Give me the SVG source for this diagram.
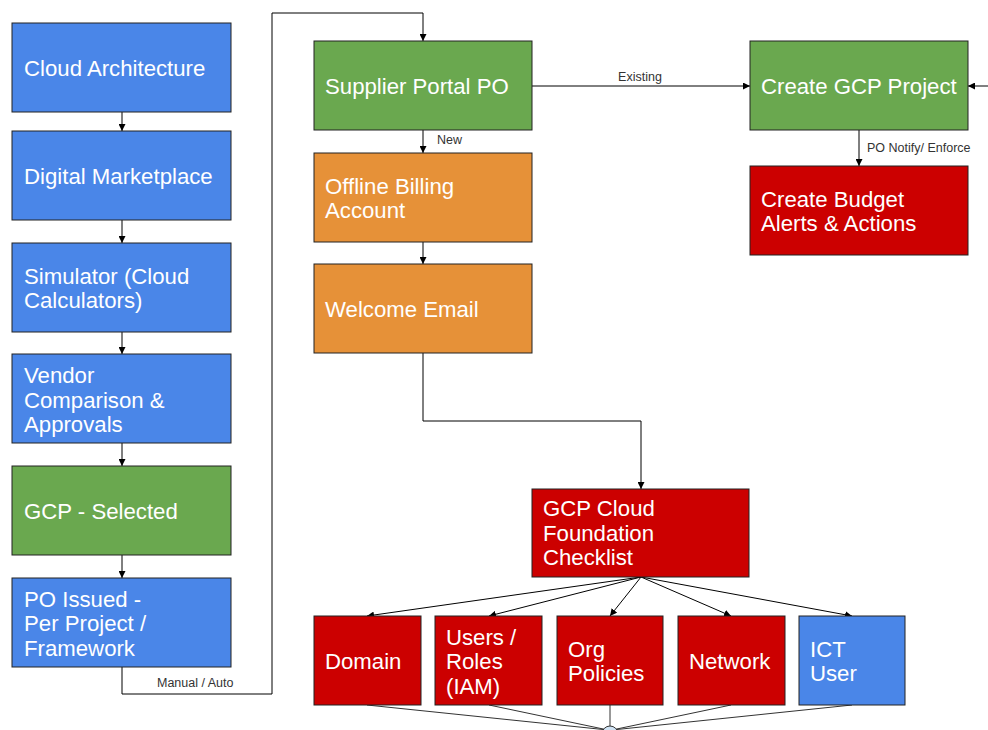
<svg xmlns="http://www.w3.org/2000/svg" width="988" height="730" viewBox="0 0 988 730">
<defs>
<marker id="ah" viewBox="0 0 10 10" refX="10" refY="5" markerWidth="7" markerHeight="7" markerUnits="userSpaceOnUse" orient="auto">
<path d="M0,0 L10,5 L0,10 z" fill="#000"/>
</marker>
<style>
.box{stroke:#222;stroke-width:1}
.blue{fill:#4a86e8}.green{fill:#6aa84f}.orange{fill:#e69138}.red{fill:#cc0000}
.t{font-family:"Liberation Sans",Arial,sans-serif;font-size:22.2px;fill:#fff}
.lbl{font-family:"Liberation Sans",Arial,sans-serif;font-size:12.5px;fill:#333}
.c{fill:none;stroke:#000;stroke-width:1}
.ca{fill:none;stroke:#000;stroke-width:1;marker-end:url(#ah)}
.g{fill:none;stroke:#333;stroke-width:1}
</style>
</defs>
<rect width="988" height="730" fill="#fff"/>
<g id="connectors">
<path class="ca" d="M122,112 V131"/>
<path class="ca" d="M122,220 V243"/>
<path class="ca" d="M122,332 V354"/>
<path class="ca" d="M122,443 V466"/>
<path class="ca" d="M122,555 V578"/>
<path class="ca" d="M122,667 V694 H272 V13 H423 V41"/>
<path class="ca" d="M423,130 V153"/>
<path class="ca" d="M423,242 V264"/>
<path class="ca" d="M532,86 H750"/>
<path class="ca" d="M988,86 H968"/>
<path class="ca" d="M859,130 V166"/>
<path class="ca" d="M423,353 V421 H641 V489"/>
<path class="ca" d="M641,577 L367,616"/>
<path class="ca" d="M641,577 L489,616"/>
<path class="ca" d="M641,577 L610,616"/>
<path class="ca" d="M641,577 L731,616"/>
<path class="ca" d="M641,577 L852,616"/>
<path class="g" d="M367,705 L608,730"/>
<path class="g" d="M489,705 L608,730"/>
<path class="g" d="M610,705 L610,726"/>
<path class="g" d="M731,705 L612,730"/>
<path class="g" d="M852,705 L612,730"/>
<circle cx="610" cy="734" r="8" fill="#cfe2f3" stroke="#333" stroke-width="1"/>
<text class="lbl" x="640" y="81" text-anchor="middle">Existing</text>
<text class="lbl" x="437" y="144">New</text>
<text class="lbl" x="867" y="152">PO Notify/ Enforce</text>
<text class="lbl" x="157" y="687">Manual / Auto</text>
</g>
<g id="cloud-architecture"><rect class="box blue" x="12" y="23" width="219" height="89"/><text class="t" x="24" y="76">Cloud Architecture</text></g>
<g id="digital-marketplace"><rect class="box blue" x="12" y="131" width="219" height="89"/><text class="t" x="24" y="184">Digital Marketplace</text></g>
<g id="simulator"><rect class="box blue" x="12" y="243" width="219" height="89"/><text class="t" x="24" y="284">Simulator (Cloud</text><text class="t" x="24" y="308">Calculators)</text></g>
<g id="vendor-comparison"><rect class="box blue" x="12" y="354" width="219" height="89"/><text class="t" x="24" y="383">Vendor</text><text class="t" x="24" y="408">Comparison &amp;</text><text class="t" x="24" y="432">Approvals</text></g>
<g id="gcp-selected"><rect class="box green" x="12" y="466" width="219" height="89"/><text class="t" x="24" y="519">GCP - Selected</text></g>
<g id="po-issued"><rect class="box blue" x="12" y="578" width="219" height="89"/><text class="t" x="24" y="607">PO Issued -</text><text class="t" x="24" y="631">Per Project /</text><text class="t" x="24" y="656">Framework</text></g>
<g id="supplier-portal"><rect class="box green" x="314" y="41" width="218" height="89"/><text class="t" x="325" y="94">Supplier Portal PO</text></g>
<g id="offline-billing"><rect class="box orange" x="314" y="153" width="218" height="89"/><text class="t" x="325" y="194">Offline Billing</text><text class="t" x="325" y="218">Account</text></g>
<g id="welcome-email"><rect class="box orange" x="314" y="264" width="218" height="89"/><text class="t" x="325" y="317">Welcome Email</text></g>
<g id="create-gcp-project"><rect class="box green" x="750" y="41" width="218" height="89"/><text class="t" x="761" y="94">Create GCP Project</text></g>
<g id="create-budget"><rect class="box red" x="750" y="166" width="218" height="89"/><text class="t" x="761" y="207">Create Budget</text><text class="t" x="761" y="231">Alerts &amp; Actions</text></g>
<g id="foundation-checklist"><rect class="box red" x="532" y="489" width="217" height="88"/><text class="t" x="543" y="516">GCP Cloud</text><text class="t" x="543" y="541">Foundation</text><text class="t" x="543" y="565">Checklist</text></g>
<g id="domain"><rect class="box red" x="314" y="616" width="107" height="89"/><text class="t" x="325" y="669">Domain</text></g>
<g id="users-roles"><rect class="box red" x="435" y="616" width="107" height="89"/><text class="t" x="446" y="645">Users /</text><text class="t" x="446" y="669">Roles</text><text class="t" x="446" y="694">(IAM)</text></g>
<g id="org-policies"><rect class="box red" x="557" y="616" width="106" height="89"/><text class="t" x="568" y="657">Org</text><text class="t" x="568" y="681">Policies</text></g>
<g id="network"><rect class="box red" x="678" y="616" width="107" height="89"/><text class="t" x="689" y="669">Network</text></g>
<g id="ict-user"><rect class="box blue" x="799" y="616" width="106" height="89"/><text class="t" x="810" y="657">ICT</text><text class="t" x="810" y="681">User</text></g>
</svg>
